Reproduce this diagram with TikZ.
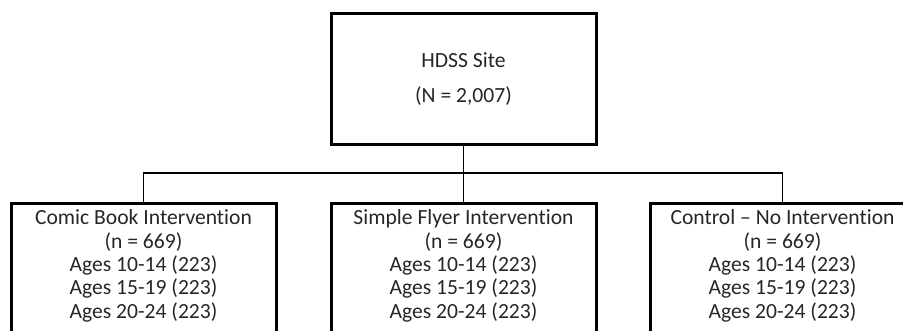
\documentclass[tikz,border=0pt]{standalone}
\usepackage{fontspec}
\setmainfont{Carlito}[Ligatures=NoCommon]
\usetikzlibrary{positioning}
\tikzset{
  sitebox/.style={draw=black, line width=3pt, minimum width=265pt, minimum height=131pt, inner sep=0pt},
  groupbox/.style={draw=black, line width=3pt, minimum width=265pt, minimum height=170pt, anchor=north, inner sep=0pt},
  grouptext/.style={align=center, font=\fontsize{21.6}{23.4}\selectfont, text=black!85, inner sep=0pt},
  link/.style={draw=black, line width=1.6pt}
}
\begin{document}
\begin{tikzpicture}[x=1pt,y=-1pt]
\useasboundingbox (0,0) rectangle (903,331);

\node[sitebox] (site) at (463.5,79.5) {};
\node[grouptext, font=\fontsize{21.6}{35}\selectfont] (sitetext) at (site.center) {HDSS Site\\(N = 2,007)};

\node[groupbox] (comic) at (143.5,202) {};
\node[groupbox] (flyer) at (463.5,202) {};
\node[groupbox] (control) at (782.5,202) {};

\node[grouptext, below=7.5pt of comic.north] (comictext) {Comic Book Intervention\\(n = 669)\\Ages 10-14 (223)\\Ages 15-19 (223)\\Ages 20-24 (223)};
\node[grouptext, below=7.5pt of flyer.north] (flyertext) {Simple Flyer Intervention\\(n = 669)\\Ages 10-14 (223)\\Ages 15-19 (223)\\Ages 20-24 (223)};
\node[grouptext, below=7.5pt of control.north] (controltext) {Control -- No Intervention\\(n = 669)\\Ages 10-14 (223)\\Ages 15-19 (223)\\Ages 20-24 (223)};

\coordinate (bus) at (463.5,173);
\draw[link] (site.south) -- (bus);
\draw[link] (comic.north) |- (bus) -| (control.north);
\draw[link] (bus) -- (flyer.north);

\end{tikzpicture}
\end{document}
